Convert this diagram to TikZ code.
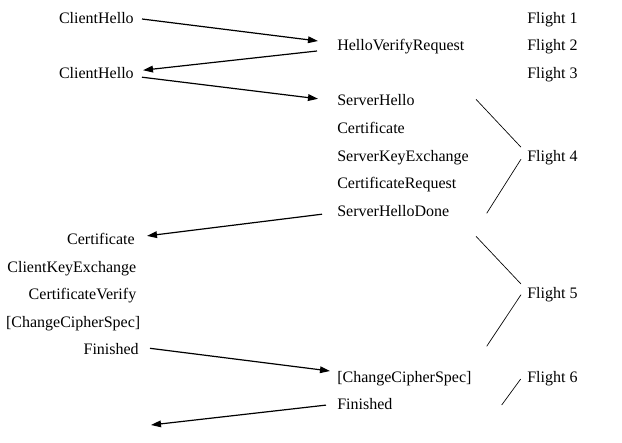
\documentclass[tikz,border=0pt]{standalone}
\usepackage{fontspec}
\setmainfont{Liberation Serif}
\usetikzlibrary{arrows.meta,calc}
\begin{document}
\begin{tikzpicture}[x=0.75pt,y=-0.75pt,
  msg/.style={inner sep=0pt,font=\fontsize{12}{14}\selectfont},
  lmsg/.style={msg,anchor=base east},
  rmsg/.style={msg,anchor=base west},
  flt/.style={msg,anchor=base west},
  arr/.style={line width=0.9pt,-{Triangle[length=7.5pt,width=5pt]}},
  brace/.style={line width=0.5pt}]
\useasboundingbox (0,0) rectangle (622,443);
% left column
\node[lmsg] (c1)   at (134,23.0)  {ClientHello};
\node[lmsg] (c2)   at (134,78.2)  {ClientHello};
\node[lmsg] (ccert) at (135,244.4) {Certificate};
\node[lmsg] (ckx)  at (136.5,272.0) {ClientKeyExchange};
\node[lmsg] (cv)   at (136.5,299.6) {CertificateVerify};
\node[lmsg] (cccs) at (140.5,327.2) {[ChangeCipherSpec]};
\node[lmsg] (cfin) at (139,354.8) {Finished};
% right column
\node[rmsg] (hvr)  at (337,50.6)  {HelloVerifyRequest};
\node[rmsg] (sh)   at (337,105.8) {ServerHello};
\node[rmsg] (scert) at (337,133.4) {Certificate};
\node[rmsg] (skx)  at (337,161.0) {ServerKeyExchange};
\node[rmsg] (scr)  at (337,188.6) {CertificateRequest};
\node[rmsg] (shd)  at (337,216.2) {ServerHelloDone};
\node[rmsg] (sccs) at (337,382.0) {[ChangeCipherSpec]};
\node[rmsg] (sfin) at (337,409.6) {Finished};
% flights
\node[flt] (f1) at (527,23.0)  {Flight 1};
\node[flt] (f2) at (527,50.6)  {Flight 2};
\node[flt] (f3) at (527,78.2)  {Flight 3};
\node[flt] (f4) at (527,161.0) {Flight 4};
\node[flt] (f5) at (527,298.8) {Flight 5};
\node[flt] (f6) at (527,382.0) {Flight 6};
% free ends
\coordinate (end6) at (151,425);
\coordinate (f4a) at (476,99.3);
\coordinate (f4b) at (486.7,213.3);
\coordinate (f5a) at (476,236.3);
\coordinate (f5b) at (486.7,346.3);
\coordinate (f6b) at (501.7,405);
% arrows
\draw[arr] ($(c1.base east)+(8,-4)$) -- ($(hvr.base west)+(-19,-9.6)$);
\draw[arr] ($(hvr.base west)+(-20,0.4)$) -- ($(c2.base east)+(9,-8)$);
\draw[arr] ($(c2.base east)+(8,-1)$) -- ($(sh.base west)+(-19,-7)$);
\draw[arr] ($(shd.base west)+(-15,-2)$) -- ($(ccert.base east)+(12,-8.5)$);
\draw[arr] ($(cfin.base east)+(11,-6.5)$) -- ($(sccs.base west)+(-7,-11)$);
\draw[arr] ($(sfin.base west)+(-11,-4.5)$) -- (end6);
% flight braces
\draw[brace] (f4a) -- ($(f4.base west)+(-6,-13.8)$);
\draw[brace] ($(f4.base west)+(-6,-1.8)$) -- (f4b);
\draw[brace] (f5a) -- ($(f5.base west)+(-6,-14.8)$);
\draw[brace] ($(f5.base west)+(-6,-4.1)$) -- (f5b);
\draw[brace] ($(f6.base west)+(-6.3,-3)$) -- (f6b);
\end{tikzpicture}
\end{document}
